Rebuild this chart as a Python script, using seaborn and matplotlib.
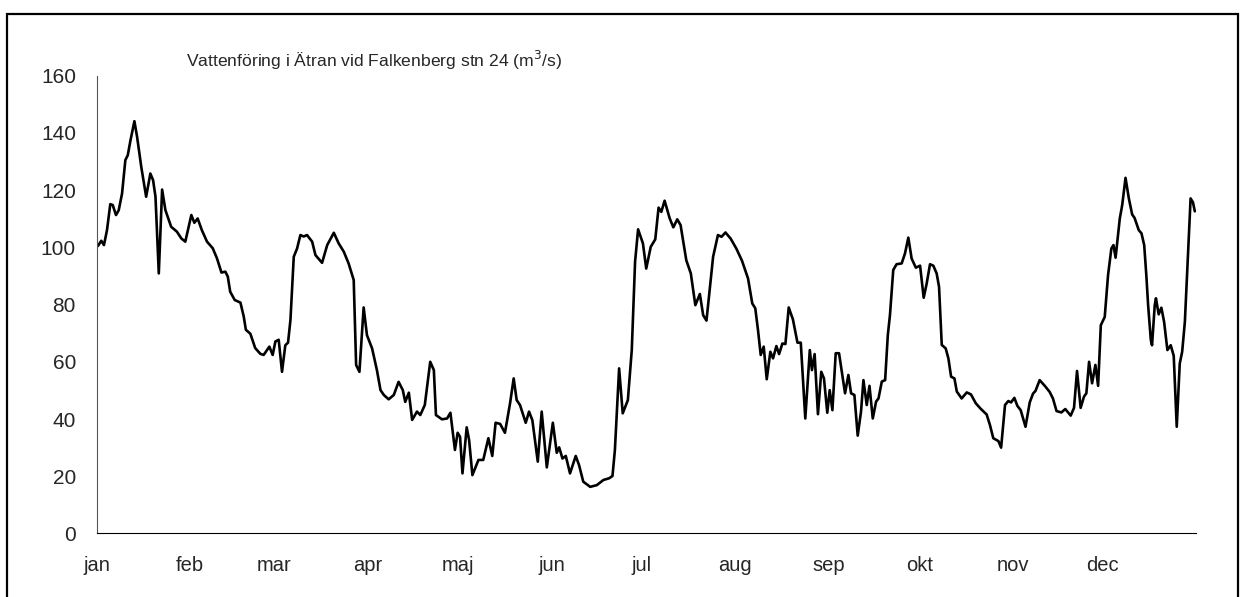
import matplotlib
matplotlib.use('Agg')
import matplotlib.pyplot as plt
import seaborn as sns
from matplotlib.patches import Rectangle

# Day of year (0 = 1 jan) and flow in m3/s
day = [0.4, 1.5, 2.4, 3.4, 4.5, 5.3, 6.4, 7.3, 8.4, 9.5, 10.3, 11.2, 12.5, 13.4, 14.8,
       16.4, 17.8, 18.7, 19.5, 20.6, 21.7, 22.8, 24.7, 26.6, 28.1, 29.4, 30.5, 31.4,
       32.4, 33.5, 34.9, 36.6, 38.5, 39.9, 41.4, 42.7, 43.5, 44.3, 45.8, 47.7, 48.8,
       49.5, 51.0, 52.6, 54.3, 55.4, 57.3, 58.4, 59.3, 60.4,
       61.5, 62.6, 63.5, 64.3, 65.4, 66.5, 67.6, 68.7, 69.8, 71.5, 72.6, 74.8, 76.5,
       78.7, 80.3, 82.0, 83.6, 85.3, 86.1, 87.2, 88.6, 89.7, 91.4, 93.0, 94.2, 95.3,
       96.9, 98.6, 100.2, 101.6, 102.4, 103.6, 104.7, 106.3, 107.4, 108.9, 110.7,
       111.9, 112.6, 114.6, 116.3, 117.4,
       118.9, 119.8, 120.6, 121.4, 122.8, 123.6, 124.7, 126.7, 128.3, 130.0, 131.3,
       132.4, 133.9, 135.5, 137.2, 138.4, 139.4, 140.5, 142.4, 143.5, 144.6, 146.4,
       147.7, 149.4, 151.4, 152.7, 153.5, 154.6, 155.7, 157.1, 159.0, 160.1, 161.5,
       163.8, 166.0, 168.2, 170.1, 171.2, 172.0, 173.4, 174.6, 176.3, 177.6, 178.7,
       179.7, 181.3, 182.4, 183.9, 185.4, 186.5, 187.4, 188.5, 190.2, 191.4, 192.7,
       193.8, 195.7, 197.2, 198.7, 200.2, 201.3, 202.4, 204.6, 206.2, 207.4, 208.7,
       210.4, 212.3, 214.2, 216.2, 217.6, 218.6, 219.5, 220.4, 221.4, 222.4, 223.6,
       224.5, 225.6, 226.5, 227.6, 228.6, 229.7, 231.1, 232.6, 233.7, 235.2, 236.7,
       237.4, 238.3, 239.4, 240.5, 241.4, 242.5, 243.3,
       244.2, 245.3, 246.4, 247.5, 248.4, 249.5, 250.4, 251.5, 252.6, 253.7, 254.5,
       255.6, 256.5, 257.6, 258.7, 259.5, 260.6, 261.7, 262.6, 263.3, 264.4, 265.5,
       267.2, 268.3, 269.4, 270.5, 271.9, 273.3, 274.5, 275.5, 276.6, 277.7, 278.8,
       279.6, 280.5, 281.8, 282.7, 283.6, 284.7, 285.5, 287.1, 288.8, 290.2, 291.8,
       293.5, 295.4, 296.5, 297.6, 299.3, 300.2, 301.5, 302.6, 303.5, 304.6,
       305.6, 306.7, 308.3, 309.7, 310.8, 311.6, 313.0, 314.7, 316.3, 317.4, 318.6,
       320.2, 321.5, 323.3, 324.4, 325.4, 326.6, 327.7, 328.5, 329.4, 330.4, 331.5,
       332.4, 333.3, 334.6, 335.7, 336.8, 337.5, 338.2, 339.6, 340.4, 341.5, 342.6,
       343.7, 344.5, 345.9, 346.8, 347.7, 348.4, 349.0, 349.9, 350.3, 351.2, 351.6,
       352.5, 353.4, 354.3, 355.4, 356.5, 357.5, 358.5, 359.5, 360.3, 361.2, 362.3,
       363.1, 363.9, 364.5]

flow = [100.5, 102.3, 100.8, 106, 115.1, 114.8, 111.3, 113, 118.8, 130.5, 132.2, 137.4,
        144.1, 138.6, 128, 117.7, 125.8, 123.5, 117.7, 90.9, 120.2, 113, 107.2, 105.5,
        103.1, 102, 107.2, 111.3, 108.6, 110.1, 106, 102, 99.7, 96.2, 91.2, 91.5, 89.8,
        84.5, 81.6, 80.7, 75.8, 71.2, 69.8, 64.8, 62.8, 62.4, 65.3, 62.4, 67.1, 67.7,
        56.5, 65.8, 66.7, 74.6, 96.7, 99.6, 104.3, 103.8, 104.3, 102, 97.3, 94.6, 100.8,
        105.1, 101.4, 98.5, 94.4, 88.6, 58.9, 56.5, 79, 69.3, 64.7, 57.1, 50.1, 48.4,
        46.9, 48.4, 53, 50.1, 46, 49.2, 39.7, 42.6, 41.4, 44.9, 60, 57.1, 41.4, 39.9,
        40.2, 42.2,
        29.2, 35.2, 33.8, 21, 37.1, 32.7, 20.4, 25.7, 25.7, 33.3, 27.1, 38.7, 38.3, 35.2,
        45.5, 54.2, 46.6, 44.9, 38.7, 42.6, 39.6, 25.1, 42.6, 23.1, 38.7, 28.2, 30.1,
        26.2, 27.1, 21, 27.1, 23.9, 18.1, 16.3, 16.9, 18.7, 19.3, 20.1, 29.2, 57.7, 42,
        46.6, 64.1, 95,
        106.3, 101.4, 92.6, 100.2, 102.8, 113.9, 112.4, 116.3, 110.1, 107, 109.8, 107.8,
        95.5, 90.9, 79.8, 83.7, 76.3, 74.4, 96.7, 104.3, 103.7, 105.2, 103.1, 99.6, 95.3,
        89.1, 80.4, 78.7, 71.1, 62.4, 65.3, 53.9, 63.5, 61.2, 65.5, 62.7, 66.4, 66.2, 79,
        74.8, 66.7, 66.7, 40.2, 64.1, 57.1, 62.7, 41.7, 56.5, 54.2, 42.2, 50.1,
        43.1, 63, 63, 55.4, 49, 55.4, 49, 48.4, 34.2, 42.6, 53.6, 44.9, 51.6, 40.2, 46.1,
        47.2, 53.1, 53.6, 69.4, 76.3, 92.1, 94.1, 94.4, 97.9, 103.4, 96.1, 92.9, 93.6,
        82.4, 87.4, 94.1, 93.6, 90.9, 86.2, 65.9, 64.7, 61.2, 54.8, 54.2, 49.6, 47.2,
        49.3, 48.6, 45.5, 43.5, 41.6, 37.9, 33.3, 32.3, 30, 44.9, 46.3, 45.8, 47.4,
        44.6, 43.1, 37.3, 45.8, 48.9, 49.8, 53.6, 51.6, 49.5, 47.2, 42.8, 42.3, 43.5,
        41.2, 43.9, 56.8, 43.9, 47.8, 49, 60, 52.5, 58.9, 51.6, 72.8, 75.7, 90.3, 99.6,
        100.8, 96.4, 110.1, 114.8, 124.3, 117.1, 111.5, 110.3, 106, 104.9, 100.8, 90.3,
        79.8, 67.6, 65.8, 79.8, 82.2, 76.6, 78.9, 74, 64.1, 65.8, 62.1, 37.3, 59.4, 63.5,
        74, 98.5, 117.1, 115.7, 112.6]

months = ['jan', 'feb', 'mar', 'apr', 'maj', 'jun', 'jul', 'aug', 'sep', 'okt', 'nov', 'dec']
month_start = [0, 31, 59, 90, 120, 151, 181, 212, 243, 273, 304, 334, 365]
y_ticks = [0, 20, 40, 60, 80, 100, 120, 140, 160]

sns.set_style('white')
plt.rcParams['font.family'] = ['Liberation Sans', 'DejaVu Sans']

fig = plt.figure(figsize=(12.45, 5.97), dpi=100)
ax = fig.add_axes([0.0777, 0.1064, 0.8832, 0.7668])

sns.lineplot(x=day, y=flow, color='black', linewidth=1.9, ax=ax)

ax.set_xlim(0, 365)
ax.set_ylim(0, 160)
ax.set_xticks(month_start)
ax.set_xticklabels(months + [''])
ax.set_yticks(y_ticks)
ax.tick_params(axis='x', direction='out', length=7, width=1, color='#444444',
               labelsize=14.5, pad=9)
ax.tick_params(axis='y', direction='out', length=6, width=1, color='#555555',
               labelsize=15, pad=9)
ax.spines['top'].set_visible(False)
ax.spines['right'].set_visible(False)
ax.spines['left'].set_color('#555555')
ax.spines['bottom'].set_color('black')
ax.set_xlabel('')
ax.set_ylabel('')

fig.text(186 / 1245, 1 - 60 / 597, 'Vattenföring i Ätran vid Falkenberg stn 24 (m$^3$/s)',
         fontsize=12.6, va='center', ha='left')

# outer frame like the Excel chart area
fig.patches.append(Rectangle((7 / 1245, -0.05), 1231 / 1245, 1.05 - 14 / 597,
                             transform=fig.transFigure, fill=False,
                             edgecolor='black', linewidth=1.6))

fig.savefig('out.png', dpi=100)
